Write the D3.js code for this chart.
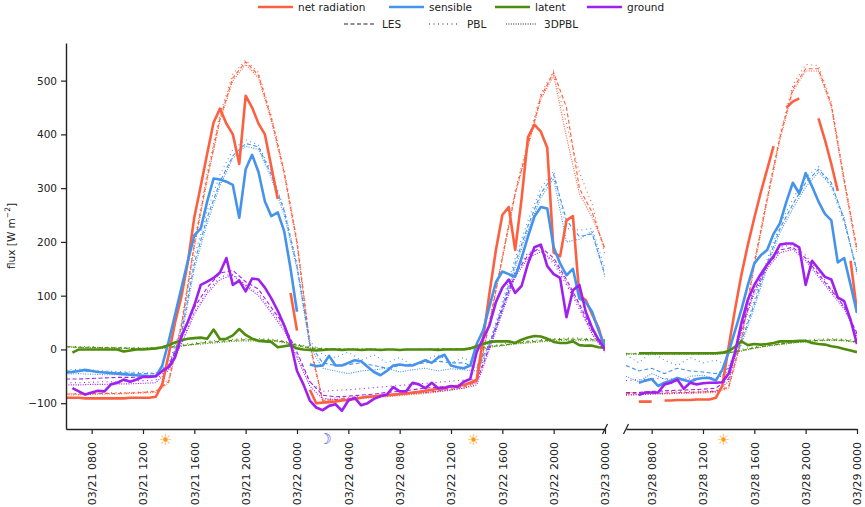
<!DOCTYPE html>
<html>
<head>
<meta charset="utf-8">
<title>Surface energy balance</title>
<script src="https://cdn.jsdelivr.net/npm/d3@7"></script>
<style>
body { margin:0; background:#fff; }
svg text { font-family:"DejaVu Sans", sans-serif; fill:#222; }
.axis path, .axis line { stroke:#222; }
</style>
</head>
<body>
<svg id="chart" width="865" height="507"></svg>
<script>
//---------------- data -------------------------------------------
// hours counted from 03/21 00:00; left panel 03/21 06:00-03/23 00:00, right panel 03/28 06:00-03/29 00:00
var obsHoursL = d3.range(6, 48.01, 0.5)
var obsHoursR = d3.range(174, 192.01, 0.5)
var modHoursL = d3.range(6, 48.01, 1)
var modHoursR = d3.range(174, 192.01, 1)

var tickHoursL = [8,12,16,20,24,28,32,36,40,44,48]
var tickLabelsL = ["03/21 0800","03/21 1200","03/21 1600","03/21 2000","03/22 0000","03/22 0400","03/22 0800","03/22 1200","03/22 1600","03/22 2000","03/23 0000"]
var tickHoursR = [176,180,184,188,192]
var tickLabelsR = ["03/28 0800","03/28 1200","03/28 1600","03/28 2000","03/29 0000"]
var yTicks = [-100,0,100,200,300,400,500]

var sunHours = [13.75, 37.75, 181.6]
var moonHours = [26.2]

// observations (30 min)
var netObsL = [-90,-90,-90,-91,-91,-91,-91,-91,-91,-91,-90,-90,-90,-90,
  -88,-65,-10,50,99,163,246,304,364,422,448,420,400,345,
  472,450,420,400,340,280,null,105,35,null,-75,-100,-99,-98,
  -97,-95,-94,-92,-90,-88,-87,-86,-85,-84,-83,-82,-80,-79,
  -77,-75,-73,-71,-69,-68,-66,-62,-56,20,105,185,250,265,
  185,280,395,418,405,375,180,173,240,248,100,92,65,40,
  0]
var senObsL = [-43,-42,-40,-38,-40,-42,-43,-44,-45,-46,-47,-48,-49,-50,
  -50,-30,15,65,115,165,212,225,275,318,316,312,306,245,
  335,362,330,275,248,255,220,150,70,null,-28,-31,-30,-12,
  -30,-30,-25,-20,-22,-32,-42,-48,-40,-30,-28,-30,-30,-25,
  -20,-25,-15,-10,-30,-33,-35,-30,10,35,80,125,145,140,
  135,170,210,247,265,262,190,160,138,150,95,88,70,35,
  5]
var latObsL = [null,-6,0,0,0,0,0,0,0,-4,-2,0,0,1,
  2,4,8,13,17,20,21,22,20,37,19,20,26,38,
  27,20,16,15,14,4,6,8,2,0,-1,-2,-1,0,
  0,-1,0,0,-1,0,0,-1,0,0,-1,0,0,0,
  0,0,-1,0,0,0,0,2,6,10,14,15,15,15,
  12,18,22,25,24,20,14,12,12,15,8,7,7,4,
  3]
var gndObsL = [null,-72,-78,-84,-80,-77,-78,-65,-62,-56,-60,-56,-51,-51,
  -50,-40,-33,-15,25,52,82,120,126,133,143,170,120,128,
  108,132,130,115,95,72,45,13,-40,-65,-95,-108,-113,-105,
  -102,-114,-95,-90,-104,-100,-92,-87,-84,-70,-78,-78,-62,-65,
  -72,-62,-72,-72,-68,-70,-60,-55,-5,20,45,88,115,130,
  105,118,160,190,195,155,140,133,60,110,120,70,40,18,
  0]

var netObsR = [null,null,-97,-97,-97,null, -95,-95,-94,-94,-94,-93, -93,-93,-90,-68,5,75,
  140,195,245,292,335,378, null,450,461,467,null,null, 430,390,345,295,null,165, 70]
var senObsR = [null,null,-62,-58,-55,-68, -62,-58,-53,-57,-60,-55, -53,-53,-58,-38,-5,35,
  75,120,160,175,185,215, 235,275,310,290,328,303, 275,252,240,162,170,120, 68]
var latObsR = [null,null,-7,-7,-7,-7, -7,-7,-7,-7,-7,-7, -7,-7,-7,-6,-3,5,
  15,8,10,9,10,12, 15,15,15,16,16,12, 10,9,6,4,1,-2, -5]
var gndObsR = [null,null,-85,-80,-80,-80, -65,-62,-56,-73,-62,-65, -63,-62,-62,-61,-45,-5,
  50,93,120,140,158,173, 195,197,197,190,120,165, 150,135,130,97,90,55, 10]

// model runs (hourly)
var netLesL = [-83,-83,-82,-82,-82,-81,-80,-78, -60,45,195,320,430,505,535,510,430,330,200,10,-95,
  -93,-91,-90,-88,-86,-84,-82,-80,-77,-74,-70, -60,50,170,290,380,470,515,450,300,255,185]
var netPblL = [-82,-82,-81,-81,-80,-80,-79,-77, -55,50,200,328,438,512,538,515,435,335,205,15,-92,
  -90,-89,-87,-86,-84,-82,-80,-78,-75,-72,-68, -58,55,175,295,388,475,518,420,330,270,175]
var net3dL = [-85,-84,-84,-83,-83,-82,-81,-80, -62,42,190,315,425,500,530,505,425,325,195,5,-97,
  -95,-93,-91,-90,-88,-86,-84,-82,-79,-76,-72, -62,48,168,288,376,465,510,395,290,245,190]
var senLesL = [-40,-40,-41,-42,-43,-44,-45,-45, -30,30,160,245,312,360,383,377,325,258,155,10,-25,
  -30,-28,-25,-30,-35,-30,-28,-25,-22,-25,-25, -35,10,80,160,230,290,325,240,210,215,140]
var senPblL = [-38,-37,-38,-40,-41,-42,-43,-44, -25,40,172,258,325,372,390,380,330,262,160,15,-10,
  -15,-5,-20,-10,-25,-15,-30,-20,-10,-25,-15, -30,15,88,170,240,300,332,225,222,225,150]
var sen3dL = [-46,-45,-46,-47,-47,-48,-48,-48, -35,22,150,235,305,355,378,372,318,250,150,5,-35,
  -40,-45,-40,-38,-35,-42,-38,-35,-40,-36,-38, -40,5,72,152,222,282,318,200,205,220,135]
var latLesL = [5,4,4,3,3,2,2,2, 4,7,10,13,15,17,18,18,17,14,8,3,1,
  1,0,0,0,0,0,0,0,1,1,1, 2,5,8,11,14,16,18,19,19,18,16]
var latPblL = [6,5,5,4,4,3,3,3, 5,9,12,15,17,19,20,20,19,16,10,5,2,
  1,1,1,1,0,0,0,1,1,1,2, 3,6,10,13,16,18,20,21,21,20,18]
var lat3dL = [4,4,3,3,2,2,1,1, 3,6,9,11,13,15,16,16,16,13,7,2,0,
  0,0,-1,-1,0,0,0,0,0,0,1, 1,4,7,10,12,14,16,17,17,16,14]
var gndLesL = [-55,-55,-54,-53,-52,-52,-51,-50, -30,20,78,115,142,147,126,112,78,45,-5,-60,-85,
  -88,-87,-85,-83,-80,-78,-75,-72,-70,-68,-65, -60,5,75,140,175,190,170,130,85,35,0]
var gndPblL = [-62,-62,-61,-60,-60,-59,-58,-57, -35,12,70,108,135,140,120,105,72,40,-10,-62,-78,
  -76,-75,-73,-71,-69,-67,-65,-63,-61,-59,-57, -55,10,80,145,180,185,160,120,75,30,-3]
var gnd3dL = [-66,-66,-65,-65,-64,-64,-63,-62, -38,10,66,104,130,138,118,100,68,35,-15,-68,-92,
  -93,-92,-90,-88,-86,-84,-82,-80,-78,-75,-72, -66,0,68,135,170,182,165,125,80,28,-5]

var netLesR = [-82,-82,-82,-81,-80,-80,-79,-78,-70,20,160,280,395,485,522,522,455,315,186]
var netPblR = [-80,-80,-79,-79,-78,-78,-77,-76,-68,25,165,285,400,492,530,528,460,320,190]
var net3dR = [-84,-84,-83,-83,-82,-82,-81,-80,-72,15,155,275,390,480,518,518,450,310,180]
var senLesR = [-30,-40,-35,-45,-35,-40,-42,-45,-35,15,85,160,225,270,310,335,310,240,145]
var senPblR = [-10,-25,-5,-20,-30,-15,-25,-20,-30,20,92,168,232,280,320,340,300,235,150]
var sen3dR = [-50,-60,-45,-55,-60,-50,-48,-55,-40,10,78,152,218,262,302,330,305,245,140]
var latLesR = [-8,-8,-8,-8,-8,-8,-8,-8,-6,-2,3,7,10,13,15,17,18,17,14]
var latPblR = [-7,-7,-7,-7,-7,-7,-7,-7,-5,0,5,9,12,15,17,19,20,19,16]
var lat3dR = [-9,-9,-9,-9,-9,-9,-9,-9,-7,-3,2,6,9,12,14,16,17,16,13]
var gndLesR = [-80,-80,-78,-77,-76,-75,-74,-72,-55,40,110,155,185,190,170,140,110,80,30]
var gndPblR = [-58,-56,-55,-54,-56,-55,-54,-53,-45,45,115,160,190,195,175,145,112,78,28]
var gnd3dR = [-85,-84,-83,-82,-81,-80,-79,-78,-60,35,105,150,180,186,165,135,105,75,25]

var varNames = ["net radiation","sensible","latent","ground"]
var varColors = ["#fc6040","#4693ec","#4e8c0e","#a020f0"]
var runNames = ["LES","PBL","3DPBL"]
var runDash = ["4,2.5","1,3.5","1,1.4"]

//---------------- chart ------------------------------------------
var svg = d3.select("#chart")

var y = d3.scaleLinear().domain([-148, 570]).range([429, 43])
var xL = d3.scaleLinear().domain([6, 48]).range([66, 605])
var xR = d3.scaleLinear().domain([174, 192]).range([626, 857])

var panels = [
  { x:xL, obsHours:obsHoursL, modHours:modHoursL, ticks:tickHoursL, labels:tickLabelsL,
    obs:[netObsL,senObsL,latObsL,gndObsL],
    runs:[[netLesL,netPblL,net3dL],[senLesL,senPblL,sen3dL],[latLesL,latPblL,lat3dL],[gndLesL,gndPblL,gnd3dL]] },
  { x:xR, obsHours:obsHoursR, modHours:modHoursR, ticks:tickHoursR, labels:tickLabelsR,
    obs:[netObsR,senObsR,latObsR,gndObsR],
    runs:[[netLesR,netPblR,net3dR],[senLesR,senPblR,sen3dR],[latLesR,latPblR,lat3dR],[gndLesR,gndPblR,gnd3dR]] }
]

var defs = svg.append("defs")

panels.forEach(function(p, pi)
{
  var r = p.x.range()
  defs.append("clipPath").attr("id","clip"+pi)
    .append("rect").attr("x",r[0]).attr("y",43).attr("width",r[1]-r[0]).attr("height",386)

  var g = svg.append("g").attr("clip-path","url(#clip"+pi+")")

  function lineFor(hours)
  {
    return d3.line()
      .defined(function(d){ return d != null })
      .x(function(d,i){ return p.x(hours[i]) })
      .y(function(d){ return y(d) })
  }
  var modLine = lineFor(p.modHours)
  var obsLine = lineFor(p.obsHours)

  // model runs first, observations on top
  for(var v=0;v<4;v++)
    for(var k=0;k<3;k++)
      g.append("path").datum(p.runs[v][k])
        .attr("fill","none")
        .attr("stroke",varColors[v])
        .attr("stroke-width",1.1)
        .attr("stroke-dasharray",runDash[k])
        .attr("d",modLine)

  for(var v=0;v<4;v++)
    g.append("path").datum(p.obs[v])
      .attr("fill","none")
      .attr("stroke",varColors[v])
      .attr("stroke-width",2.6)
      .attr("stroke-linejoin","round")
      .attr("d",obsLine)

  // bottom axis with rotated labels
  var ax = svg.append("g").attr("class","axis")
    .attr("transform","translate(0,429)")
    .call(d3.axisBottom(p.x).tickValues(p.ticks)
      .tickFormat(function(d,i){ return p.labels[i] })
      .tickSize(5).tickSizeOuter(0))
  ax.select(".domain").attr("stroke-width",1.4)
  ax.selectAll(".tick line").attr("stroke-width",1.2)
  ax.selectAll("text")
    .attr("font-size","11px")
    .attr("transform","rotate(-90)")
    .attr("text-anchor","end")
    .attr("x",-13).attr("y",0).attr("dy","0.35em")
})

// left axis on the first panel only
var ay = svg.append("g").attr("class","axis")
  .attr("transform","translate(66,0)")
  .call(d3.axisLeft(y).tickValues(yTicks).tickSize(5).tickSizeOuter(0))
ay.select(".domain").attr("stroke-width",1.4)
ay.selectAll(".tick line").attr("stroke-width",1.2)
ay.selectAll("text").attr("font-size","10.5px").attr("x",-9)

var yl = svg.append("text")
  .attr("transform","translate(11,236)rotate(-90)")
  .attr("text-anchor","middle")
  .attr("dominant-baseline","central")
  .attr("font-size","10.5px")
yl.append("tspan").text("flux [W m")
yl.append("tspan").attr("font-size","7.5px").attr("dy","-4").text("\u22122")
yl.append("tspan").attr("dy","4").text("]")

// axis break marks
;[605, 626].forEach(function(bx)
{
  svg.append("line")
    .attr("x1",bx-2.5).attr("y1",434).attr("x2",bx+2.5).attr("y2",424)
    .attr("stroke","#222").attr("stroke-width",1.3)
})

// day / night symbols
function symX(h){ return h < 100 ? xL(h) : xR(h) }
sunHours.forEach(function(h)
{
  svg.append("text").attr("x",symX(h)).attr("y",440)
    .attr("text-anchor","middle").attr("dominant-baseline","central")
    .attr("font-size","15px").style("fill","#ff9a10").text("\u2600")
})
moonHours.forEach(function(h)
{
  svg.append("text").attr("x",symX(h)).attr("y",439)
    .attr("text-anchor","middle").attr("dominant-baseline","central")
    .attr("font-size","15px").style("fill","#4a4af0").text("\u263D")
})

// legend
var leg1X = [258, 389, 495, 587]
varNames.forEach(function(n,i)
{
  svg.append("line").attr("x1",leg1X[i]).attr("x2",leg1X[i]+35).attr("y1",7).attr("y2",7)
    .attr("stroke",varColors[i]).attr("stroke-width",2.6)
  svg.append("text").attr("x",leg1X[i]+40).attr("y",7)
    .attr("dominant-baseline","central").attr("font-size","10.5px").text(n)
})
var leg2X = [344, 429, 506]
runNames.forEach(function(n,i)
{
  svg.append("line").attr("x1",leg2X[i]).attr("x2",leg2X[i]+31).attr("y1",24).attr("y2",24)
    .attr("stroke","#222").attr("stroke-width",1.1).attr("stroke-dasharray",runDash[i])
  svg.append("text").attr("x",leg2X[i]+38).attr("y",24)
    .attr("dominant-baseline","central").attr("font-size","10.5px").text(n)
})
</script>
</body>
</html>
